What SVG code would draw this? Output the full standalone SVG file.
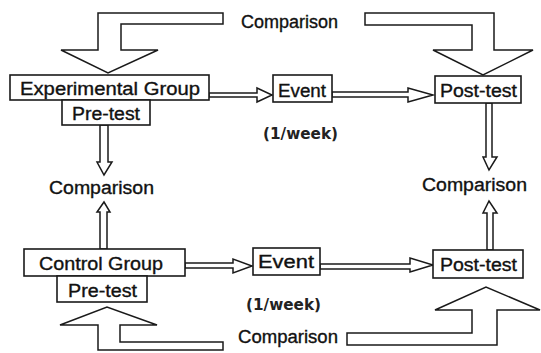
<svg xmlns="http://www.w3.org/2000/svg" width="541" height="353" viewBox="0 0 541 353">
<style>
.box{fill:#fff;stroke:#1a1a1a;stroke-width:1.6}
.arr{fill:#fff;stroke:#1a1a1a;stroke-width:1.5;stroke-linejoin:miter}
.lbl{font-family:"Liberation Sans",Arial,sans-serif;font-size:18px;fill:#111;stroke:#111;stroke-width:0.35}
.bold{font-family:"DejaVu Sans","Open Sans",sans-serif;font-weight:bold;font-size:15px;fill:#222}
</style>
<rect width="541" height="353" fill="#fff"/>
<g id="connectors">
  <path class="arr" d="M98,13 L223,13 L223,24 L121,24 L121,50 L158,50 L108,73 L61,50 L98,50 Z"/>
  <path class="arr" d="M365,13 L494,13 L494,50 L533,50 L483,75 L433,50 L472,50 L472,25 L365,25 Z"/>
  <path class="arr" d="M98,350 L223,350 L223,342 L120,342 L120,325 L157,325 L107,307 L60,325 L98,325 Z"/>
  <path class="arr" d="M347,345 L497,345 L497,310 L540,310 L486,287 L435,310 L472,310 L472,333 L347,333 Z"/>
  <path class="arr" d="M209,93 L257,93 L257,88 L272,95 L257,102 L257,97 L209,97 Z"/>
  <path class="arr" d="M332,92 L408,92 L408,88 L433,95 L408,102 L408,97 L332,97 Z"/>
  <path class="arr" d="M185,263 L233,263 L233,259 L252,266 L233,273 L233,268 L185,268 Z"/>
  <path class="arr" d="M320,264 L410,264 L410,258 L433,265 L410,272 L410,269 L320,269 Z"/>
  <path class="arr" d="M100,125 L108,125 L108,162 L112,162 L104,175 L97,162 L100,162 Z"/>
  <path class="arr" d="M486,103 L492,103 L492,157 L497,157 L489,170 L483,157 L486,157 Z"/>
  <path class="arr" d="M100,249 L107,249 L107,212 L110,212 L104,202 L97,212 L100,212 Z"/>
  <path class="arr" d="M487,250 L493,250 L493,213 L497,213 L489,201 L483,213 L487,213 Z"/>
</g>
<g id="exp-group">
  <rect class="box" x="10" y="75" width="199" height="25"/>
  <text class="lbl" x="20" y="95" textLength="180" lengthAdjust="spacingAndGlyphs">Experimental Group</text>
</g>
<g id="exp-pretest">
  <rect class="box" x="62" y="100" width="88" height="25"/>
  <text class="lbl" x="72" y="120" textLength="68" lengthAdjust="spacingAndGlyphs">Pre-test</text>
</g>
<g id="exp-event">
  <rect class="box" x="273" y="75" width="59" height="27"/>
  <text class="lbl" x="278" y="97" textLength="48" lengthAdjust="spacingAndGlyphs">Event</text>
</g>
<g id="exp-posttest">
  <rect class="box" x="435" y="76" width="86" height="27"/>
  <text class="lbl" x="440" y="97" textLength="77" lengthAdjust="spacingAndGlyphs">Post-test</text>
</g>
<g id="ctl-group">
  <rect class="box" x="24" y="249" width="161" height="27"/>
  <text class="lbl" x="39" y="270" textLength="124" lengthAdjust="spacingAndGlyphs">Control Group</text>
</g>
<g id="ctl-pretest">
  <rect class="box" x="57" y="276" width="90" height="26"/>
  <text class="lbl" x="68" y="297" textLength="69" lengthAdjust="spacingAndGlyphs">Pre-test</text>
</g>
<g id="ctl-event">
  <rect class="box" x="253" y="248" width="67" height="27"/>
  <text class="lbl" x="258" y="268" textLength="56" lengthAdjust="spacingAndGlyphs">Event</text>
</g>
<g id="ctl-posttest">
  <rect class="box" x="433" y="250" width="90" height="28"/>
  <text class="lbl" x="440" y="271" textLength="77" lengthAdjust="spacingAndGlyphs">Post-test</text>
</g>
<g id="cmp-top"><text class="lbl" x="241" y="28" textLength="97" lengthAdjust="spacingAndGlyphs">Comparison</text></g>
<g id="cmp-left"><text class="lbl" x="49" y="194" textLength="105" lengthAdjust="spacingAndGlyphs">Comparison</text></g>
<g id="cmp-right"><text class="lbl" x="422" y="191" textLength="105" lengthAdjust="spacingAndGlyphs">Comparison</text></g>
<g id="cmp-bottom"><text class="lbl" x="238" y="343" textLength="100" lengthAdjust="spacingAndGlyphs">Comparison</text></g>
<g id="freq-top"><text class="bold" x="263" y="139" textLength="75" lengthAdjust="spacingAndGlyphs">(1/week)</text></g>
<g id="freq-bottom"><text class="bold" x="246" y="310" textLength="75" lengthAdjust="spacingAndGlyphs">(1/week)</text></g>
</svg>
